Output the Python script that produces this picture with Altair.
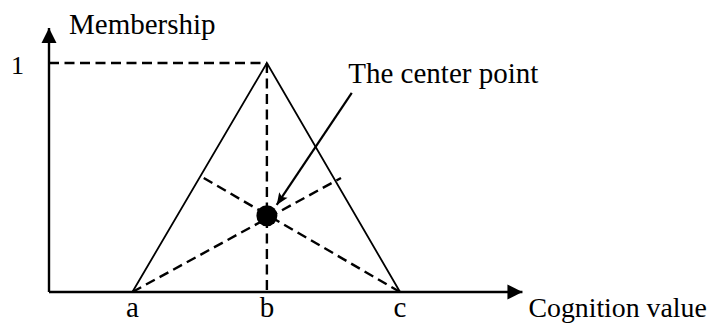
import math
import altair as alt
import pandas as pd

# ---- values (abstract units) ----
tri_x = [0.62, 1.62, 2.61]          # a, b, c
tri_y = [0.0, 1.0, 0.0]
tri_labels = ["a", "b", "c"]
peak_value = [1.0]
peak_label = ["1"]
center_x = [1.62]
center_y = [0.333]
x_axis_end = [3.52]
y_axis_end = [1.153]
median_end_x = [2.171, 1.135]       # from a, from c
median_end_y = [0.498, 0.503]
pointer_start = [2.251, 0.870]
pointer_tip = [1.693, 0.380]
x_title = ["Cognition value"]
y_title = ["Membership"]
pointer_text = ["The center point"]

# ---- scale set-up (plot area = whole canvas) ----
W, H = 705, 315
KX, KY = 134.5, 229.0               # px per unit
OX, OY = 49 - 8, 292 - 8            # origin inside canvas
x_dom = [-OX / KX, -OX / KX + W / KX]
y_dom = [OY / KY - H / KY, OY / KY]
xs = alt.Scale(domain=x_dom, zero=False, nice=False)
ys = alt.Scale(domain=y_dom, zero=False, nice=False)
FONT = "Liberation Serif"


def X(f):
    return alt.X(f, type="quantitative", scale=xs, axis=None)


def Y(f):
    return alt.Y(f, type="quantitative", scale=ys, axis=None)


a, b, c = tri_x

# axes
axes_df = pd.DataFrame({"x": [0, 0], "y": [0, 0],
                        "x2": [x_axis_end[0], 0], "y2": [0, y_axis_end[0]]})
axes = alt.Chart(axes_df).mark_rule(color="black", strokeWidth=2.4).encode(
    x=X("x"), y=Y("y"), x2="x2", y2="y2")

heads_df = pd.DataFrame({"x": [x_axis_end[0], 0], "y": [0, y_axis_end[0]],
                         "ang": [90, 0]})
heads = alt.Chart(heads_df).mark_point(
    shape="M0,0 L-0.5,1 L0.5,1 Z", size=900, filled=True, color="black",
    opacity=1, strokeWidth=0).encode(
    x=X("x"), y=Y("y"), angle=alt.Angle("ang:Q", scale=None))

# triangle
tri_df = pd.DataFrame({"x": tri_x, "y": tri_y, "o": [0, 1, 2]})
tri = alt.Chart(tri_df).mark_line(color="black", strokeWidth=1.8).encode(
    x=X("x"), y=Y("y"), order="o:Q")

# dashed guides
dash_df = pd.DataFrame({
    "x": [0, b, a, c],
    "y": [peak_value[0], peak_value[0], 0, 0],
    "x2": [b, b, median_end_x[0], median_end_x[1]],
    "y2": [peak_value[0], 0, median_end_y[0], median_end_y[1]],
})
dashes = alt.Chart(dash_df).mark_rule(
    color="black", strokeWidth=2.4, strokeDash=[10, 5.5]).encode(
    x=X("x"), y=Y("y"), x2="x2", y2="y2")

# center point
cen_df = pd.DataFrame({"x": center_x, "y": center_y})
cen = alt.Chart(cen_df).mark_circle(size=441, color="black", opacity=1).encode(
    x=X("x"), y=Y("y"))

# pointer arrow
ptr_df = pd.DataFrame({"x": [pointer_start[0]], "y": [pointer_start[1]],
                       "x2": [pointer_tip[0]], "y2": [pointer_tip[1]]})
ptr = alt.Chart(ptr_df).mark_rule(color="black", strokeWidth=2.2).encode(
    x=X("x"), y=Y("y"), x2="x2", y2="y2")
dxp = (pointer_tip[0] - pointer_start[0]) * KX
dyp = -(pointer_tip[1] - pointer_start[1]) * KY
ang = (math.degrees(math.atan2(dxp, -dyp)) + 360) % 360
ptr_head_df = pd.DataFrame({"x": [pointer_tip[0]], "y": [pointer_tip[1]]})
ptr_head = alt.Chart(ptr_head_df).mark_point(
    shape="M0,0 L-0.42,1 L0,0.8 L0.42,1 Z", size=576, filled=True,
    color="black", opacity=1, strokeWidth=0, angle=ang).encode(
    x=X("x"), y=Y("y"))

# texts
abc_df = pd.DataFrame({"x": tri_x, "y": [0, 0, 0], "t": tri_labels})
abc = alt.Chart(abc_df).mark_text(
    font=FONT, fontSize=29, dy=24.5, baseline="alphabetic", align="center",
    color="black").encode(x=X("x"), y=Y("y"), text="t:N")

one_df = pd.DataFrame({"x": [0], "y": peak_value, "t": peak_label})
one = alt.Chart(one_df).mark_text(
    font=FONT, fontSize=26, dx=-25, dy=11, baseline="alphabetic",
    align="right", color="black").encode(x=X("x"), y=Y("y"), text="t:N")

yt_df = pd.DataFrame({"x": [0], "y": y_axis_end, "t": y_title})
yt = alt.Chart(yt_df).mark_text(
    font=FONT, fontSize=29, dx=20, dy=6, baseline="alphabetic",
    align="left", color="black").encode(x=X("x"), y=Y("y"), text="t:N")

xt_df = pd.DataFrame({"x": x_axis_end, "y": [0], "t": x_title})
xt = alt.Chart(xt_df).mark_text(
    font=FONT, fontSize=27.8, dx=6, dy=25, baseline="alphabetic",
    align="left", color="black").encode(x=X("x"), y=Y("y"), text="t:N")

pt_df = pd.DataFrame({"x": [pointer_start[0]], "y": [pointer_start[1]],
                      "t": pointer_text})
pt = alt.Chart(pt_df).mark_text(
    font=FONT, fontSize=29, dx=-3.5, dy=-9.7, baseline="alphabetic",
    align="left", color="black").encode(x=X("x"), y=Y("y"), text="t:N")

chart = alt.layer(axes, heads, tri, dashes, cen, ptr, ptr_head,
                  abc, one, yt, xt, pt).properties(
    width=W, height=H, autosize=alt.AutoSizeParams(type="none"),
    padding=0, background="white"
).configure_view(stroke=None)

chart.save("out.html", embed_options={"renderer": "svg", "actions": False})
